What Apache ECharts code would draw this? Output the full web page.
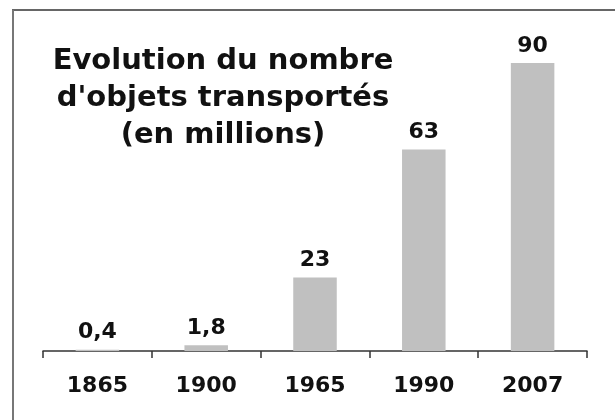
<!DOCTYPE html>
<html>
<head>
<meta charset="utf-8">
<script src="https://cdn.jsdelivr.net/npm/echarts@6/dist/echarts.min.js"></script>
<style>
  html, body { margin: 0; padding: 0; background: #fff; }
  #main { width: 615px; height: 420px; }
</style>
</head>
<body>
<div id="main"></div>
<script>
// données
const years = ['1865', '1900', '1965', '1990', '2007'];
const objets = [0.4, 1.8, 23, 63, 90];
const titre = "Evolution du nombre\nd'objets transportés\n(en millions)";

const chart = echarts.init(document.getElementById('main'));

const option = {
  backgroundColor: '#fff',
  animation: false,
  title: {
    text: titre,
    left: 218,
    top: 38,
    textAlign: 'center',
    textStyle: {
      fontFamily: 'DejaVu Sans',
      fontWeight: 'bold',
      fontSize: 29,
      lineHeight: 37,
      color: '#111',
      align: 'center'
    }
  },
  grid: { left: 43, right: 28, top: 63, bottom: 69 },
  xAxis: {
    type: 'category',
    data: years,
    axisLine: { lineStyle: { color: '#333', width: 1.5 } },
    axisTick: { show: true, length: 7, lineStyle: { color: '#333', width: 1.5 } },
    axisLabel: {
      margin: 24,
      fontFamily: 'DejaVu Sans',
      fontWeight: 'bold',
      fontSize: 22,
      color: '#111'
    }
  },
  yAxis: {
    type: 'value',
    min: 0,
    max: 90,
    show: false,
    splitLine: { show: false }
  },
  series: [{
    type: 'bar',
    data: objets,
    barWidth: '40%',
    itemStyle: { color: '#c0c0c0' },
    label: {
      show: true,
      position: 'top',
      distance: 6,
      fontFamily: 'DejaVu Sans',
      fontWeight: 'bold',
      fontSize: 22,
      color: '#111',
      formatter: p => String(p.value).replace('.', ',')
    }
  }],
  graphic: [
    { type: 'line', shape: { x1: 12, y1: 10, x2: 615, y2: 10 }, style: { stroke: '#333', lineWidth: 1.5 } },
    { type: 'line', shape: { x1: 13, y1: 10, x2: 13, y2: 420 }, style: { stroke: '#777', lineWidth: 2 } }
  ]
};

chart.setOption(option);
</script>
</body>
</html>
